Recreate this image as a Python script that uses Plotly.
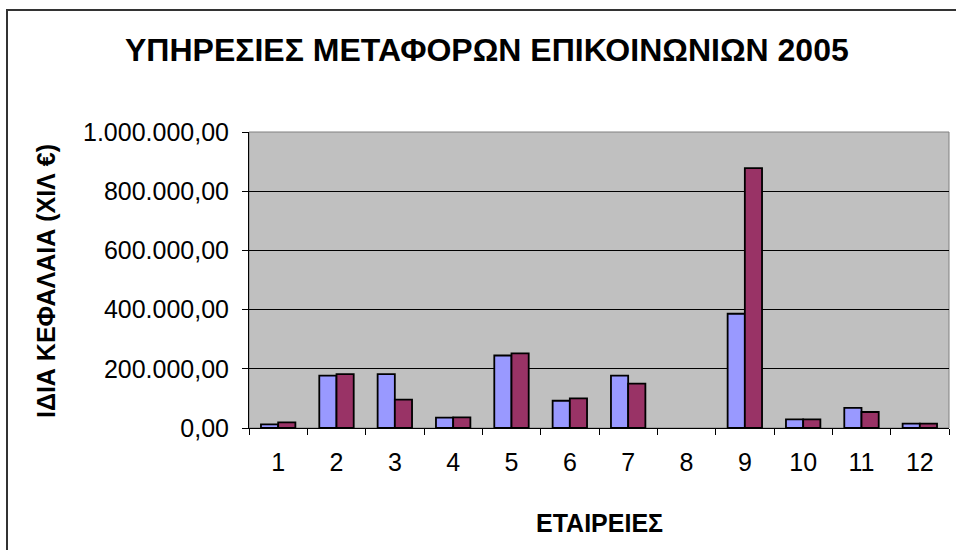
import plotly.graph_objects as go

# Companies (x categories) and equity values in thousands of euro
companies = ["1", "2", "3", "4", "5", "6", "7", "8", "9", "10", "11", "12"]
series_a = [12500, 177000, 182000, 35000, 245000, 92000, 177000, 0, 386000, 29000, 68000, 15000]
series_b = [19000, 182000, 96000, 36000, 252000, 100000, 150000, 0, 878000, 29000, 54000, 15000]
y_ticks = [0, 200000, 400000, 600000, 800000, 1000000]

W, H = 956, 550
L, R, T, B = 249, 7, 132, 122
pw, ph = W - L - R, H - T - B


def px_x(x):
    return (x - L) / pw


def px_y(y):
    return (H - B - y) / ph


def outline_widths(values):
    # no outline for empty bars, so a zero value leaves no stroke on the axis
    return [1.8 if v else 0 for v in values]


FONT = "Liberation Sans, Arial, sans-serif"

fig = go.Figure()
fig.add_bar(x=companies, y=series_a, name="Σειρά1",
            marker=dict(color="#9999FF",
                        line=dict(color="#000000", width=outline_widths(series_a))))
fig.add_bar(x=companies, y=series_b, name="Σειρά2",
            marker=dict(color="#993366",
                        line=dict(color="#000000", width=outline_widths(series_b))))

fig.update_layout(
    width=W, height=H,
    margin=dict(l=L, r=R, t=T, b=B, pad=0),
    paper_bgcolor="#FFFFFF",
    plot_bgcolor="#C0C0C0",
    barmode="group",
    bargap=0.41,
    bargroupgap=0,
    showlegend=False,
    separators=",.",
    font=dict(family=FONT, color="#000000"),
    xaxis=dict(
        type="category",
        tickson="boundaries",
        ticks="outside", ticklen=6, tickcolor="#000000", tickwidth=1,
        showline=True, linecolor="#000000", linewidth=1,
        showgrid=False,
        tickfont=dict(size=25, family=FONT),
        ticklabelstandoff=12,
    ),
    yaxis=dict(
        range=[0, 1000000],
        tickvals=y_ticks,
        tickformat=",.2f",
        ticks="outside", ticklen=6, tickcolor="#000000", tickwidth=1,
        showline=True, linecolor="#000000", linewidth=1,
        showgrid=True, gridcolor="#000000", gridwidth=1,
        zeroline=False,
        tickfont=dict(size=25, family=FONT),
        ticklabelstandoff=8,
    ),
    shapes=[
        # plot-area frame (top and right edges)
        dict(type="rect", xref="paper", yref="paper", x0=0, x1=1, y0=0, y1=1,
             line=dict(color="#808080", width=1), layer="below"),
        # chart-area border
        dict(type="rect", xref="paper", yref="paper",
             x0=px_x(7), x1=px_x(962), y0=px_y(556), y1=px_y(10),
             line=dict(color="#333333", width=2)),
    ],
    annotations=[
        dict(text="<b>ΥΠΗΡΕΣΙΕΣ ΜΕΤΑΦΟΡΩΝ ΕΠΙΚΟΙΝΩΝΙΩΝ 2005</b>",
             xref="paper", yref="paper", x=px_x(487), y=px_y(50),
             xanchor="center", yanchor="middle", showarrow=False,
             font=dict(size=32, family=FONT)),
        dict(text="<b>ΙΔΙΑ ΚΕΦΑΛΑΙΑ (ΧΙΛ €)</b>",
             xref="paper", yref="paper", x=px_x(46), y=px_y(281),
             xanchor="center", yanchor="middle", textangle=-90, showarrow=False,
             font=dict(size=25, family=FONT)),
        dict(text="<b>ΕΤΑΙΡΕΙΕΣ</b>",
             xref="paper", yref="paper", x=px_x(599), y=px_y(523),
             xanchor="center", yanchor="middle", showarrow=False,
             font=dict(size=25, family=FONT)),
    ],
)

fig.write_html("out.html")
